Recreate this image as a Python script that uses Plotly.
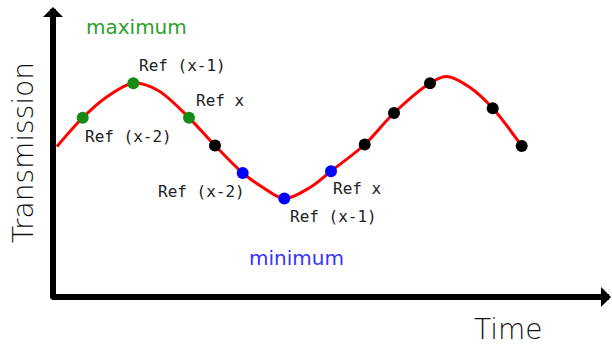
import plotly.graph_objects as go

# Transmission signal sampled along time (arbitrary units)
curve_time = [0.4, 2.97, 5.3, 8.03, 10.5, 13.6, 16.2, 18.97, 21.0, 23.13,
              25.7, 27.8, 31.17, 34.1, 37.7, 39.4, 41.7, 43.97, 46.87]
curve_trans = [15.05, 17.92, 19.95, 21.38, 20.65, 17.92, 15.15, 12.4, 10.95, 9.85,
               10.95, 12.58, 15.25, 18.4, 21.38, 22.05, 20.95, 18.88, 15.1]

# Reference points used to detect the maximum
max_ref_time = [2.97, 8.03, 13.6]
max_ref_trans = [17.92, 21.38, 17.92]

# Reference points used to detect the minimum
min_ref_time = [18.97, 23.13, 27.8]
min_ref_trans = [12.4, 9.85, 12.58]

# Remaining samples
other_time = [16.2, 31.17, 34.1, 37.7, 43.97, 46.87]
other_trans = [15.15, 15.25, 18.4, 21.38, 18.88, 15.1]

ref_labels = ["Ref (x-2)", "Ref (x-1)", "Ref x"]

fig = go.Figure()
fig.add_trace(go.Scatter(x=curve_time, y=curve_trans, mode="lines",
                         line=dict(color="#ff0000", width=3, shape="spline"),
                         hoverinfo="skip", showlegend=False))
fig.add_trace(go.Scatter(x=other_time, y=other_trans, mode="markers",
                         marker=dict(color="#000000", size=12), showlegend=False))
fig.add_trace(go.Scatter(x=max_ref_time, y=max_ref_trans, mode="markers",
                         marker=dict(color="#158a15", size=12), showlegend=False))
fig.add_trace(go.Scatter(x=min_ref_time, y=min_ref_trans, mode="markers",
                         marker=dict(color="#0000ff", size=12), showlegend=False))

label_font = dict(family="DejaVu Sans Mono", size=16, color="#222222")
thin = "DejaVu Sans ExtraLight, DejaVu Sans"
annotations = []
# labels around the maximum
for txt, (ax, ay) in zip(ref_labels, [(7.55, 16.05), (12.9, 23.15), (16.7, 19.65)]):
    annotations.append(dict(x=ax, y=ay, xref="x", yref="y", text=txt, showarrow=False,
                            xanchor="center", yanchor="middle", font=label_font))
# labels around the minimum
for txt, (ax, ay) in zip(ref_labels, [(14.8, 10.55), (28.05, 8.05), (30.4, 10.85)]):
    annotations.append(dict(x=ax, y=ay, xref="x", yref="y", text=txt, showarrow=False,
                            xanchor="center", yanchor="middle", font=label_font))

annotations += [
    dict(x=8.35, y=27.05, xref="x", yref="y", text="maximum", showarrow=False,
         xanchor="center", yanchor="middle",
         font=dict(family="DejaVu Sans", size=20, color="#2ca02c")),
    dict(x=24.3, y=3.95, xref="x", yref="y", text="minimum", showarrow=False,
         xanchor="center", yanchor="middle",
         font=dict(family="DejaVu Sans", size=20, color="#3535ff")),
    # axis titles
    dict(x=-0.0537, y=0.50, xref="paper", yref="paper", text="Transmission",
         textangle=-90, showarrow=False, xanchor="center", yanchor="middle",
         font=dict(family=thin, size=28, weight=200, color="#111111")),
    dict(x=0.814, y=-0.112, xref="paper", yref="paper", text="Time",
         showarrow=False, xanchor="center", yanchor="middle",
         font=dict(family=thin, size=28, weight=200, color="#111111")),
    # axis arrows
    dict(x=0, y=1, xref="paper", yref="paper", text="", showarrow=True,
         ax=0, ay=293, arrowhead=1, arrowsize=0.555, arrowwidth=6, arrowcolor="#000000"),
    dict(x=1.0143, y=0, xref="paper", yref="paper", text="", showarrow=True,
         ax=-570, ay=0, arrowhead=1, arrowsize=0.555, arrowwidth=6, arrowcolor="#000000"),
]

fig.update_layout(
    width=612, height=345,
    margin=dict(l=53, r=0, t=7, b=48),
    paper_bgcolor="white", plot_bgcolor="white",
    xaxis=dict(range=[0, 55.9], visible=False),
    yaxis=dict(range=[0, 29.0], visible=False),
    annotations=annotations,
    showlegend=False,
)

fig.write_html("out.html")
